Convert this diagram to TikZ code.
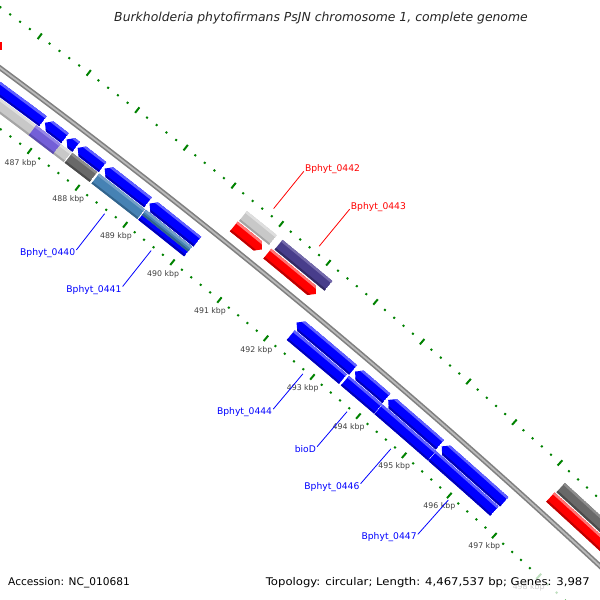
\documentclass[tikz,border=0pt]{standalone}
\usepackage{graphicx}
\usepackage{fontspec}
\setmainfont{DejaVu Sans}

\definecolor{blu}{RGB}{0,0,255}
\definecolor{bluL}{RGB}{95,95,255}
\definecolor{bluD}{RGB}{0,0,185}
\definecolor{rd}{RGB}{255,0,0}
\definecolor{rdL}{RGB}{255,115,115}
\definecolor{rdD}{RGB}{190,0,0}
\definecolor{lgr}{RGB}{200,200,200}
\definecolor{lgrL}{RGB}{222,222,222}
\definecolor{lgrD}{RGB}{165,165,165}
\definecolor{dgr}{RGB}{105,105,105}
\definecolor{dgrL}{RGB}{140,140,140}
\definecolor{dgrD}{RGB}{75,75,75}
\definecolor{slt}{RGB}{72,61,139}
\definecolor{sltL}{RGB}{115,105,170}
\definecolor{sltD}{RGB}{50,42,100}
\definecolor{msl}{RGB}{115,95,215}
\definecolor{mslL}{RGB}{150,135,230}
\definecolor{mslD}{RGB}{90,75,175}
\definecolor{stl}{RGB}{70,130,180}
\definecolor{stlL}{RGB}{115,160,200}
\definecolor{stlD}{RGB}{50,100,140}
\definecolor{tickgreen}{RGB}{0,130,0}

% gene: start kbp, end kbp, inner r, outer r, 0 box / 1 fwd / 2 rev, colour
\def\gene#1#2#3#4#5#6{%
  \ifcase#5
    \def\gp{({kb(#1)}:#4) arc[start angle={kb(#1)},end angle={kb(#2)},radius=#4] -- ({kb(#2)}:#3) arc[start angle={kb(#2)},end angle={kb(#1)},radius=#3] -- cycle}%
  \or
    \def\gp{({kb(#1)}:#4) arc[start angle={kb(#1)},end angle={kb(#2-0.1)},radius=#4] -- ({kb(#2)}:{(#3+#4)/2}) -- ({kb(#2-0.1)}:#3) arc[start angle={kb(#2-0.1)},end angle={kb(#1)},radius=#3] -- cycle}%
  \or
    \def\gp{({kb(#1)}:{(#3+#4)/2}) -- ({kb(#1+0.1)}:#4) arc[start angle={kb(#1+0.1)},end angle={kb(#2)},radius=#4] -- ({kb(#2)}:#3) arc[start angle={kb(#2)},end angle={kb(#1+0.1)},radius=#3] -- cycle}%
  \fi
  \begin{scope}
    \clip \gp;
    \fill[#6] \gp;
    \draw[#6L,line width=5] ({kb(#1)+0.1}:#4) arc[start angle={kb(#1)+0.1},end angle={kb(#2)-0.1},radius=#4];
    \draw[#6D,line width=4] ({kb(#1)+0.1}:#3) arc[start angle={kb(#1)+0.1},end angle={kb(#2)-0.1},radius=#3];
  \end{scope}}

\begin{document}
\begin{tikzpicture}[x=1bp,y=1bp,
    declare function={kb(\s)=50.4-0.497*(\s-492);},
    tickmark/.style={draw=tickgreen,line width=2},
    kbplbl/.style={font=\fontsize{7.8bp}{8bp}\selectfont,text=black!75,inner sep=0},
    inlbl/.style={font=\fontsize{9.2bp}{10bp}\selectfont,text=blu,anchor=base east,inner sep=0,xshift=-1,yshift=-5.5},
    outlbl/.style={font=\fontsize{9.2bp}{10bp}\selectfont,text=rd,anchor=base west,inner sep=0,xshift=1},
    inlead/.style={draw=blu,line width=0.8},
    outlead/.style={draw=rd,line width=0.8},
    legfont/.style={font=\fontsize{10.6bp}{11bp}\selectfont,inner sep=0}]

  \useasboundingbox (0,0) rectangle (600,600);
  \fill[white] (0,0) rectangle (600,600);

  \begin{scope}
    \clip (0,0) rectangle (600,600);
    \begin{scope}[shift={(-4167,-5097)}]

      %%%%% backbone %%%%%
      \draw[black!50,line width=5] ({kb(483)}:7004) arc[start angle={kb(483)},end angle={kb(500)},radius=7004];
      \draw[black!27,line width=1.8] ({kb(483)}:7004) arc[start angle={kb(483)},end angle={kb(500)},radius=7004];

      %%%%% ticks %%%%%
      \foreach \i in {2415,...,2500}{
        \pgfmathtruncatemacro\m{mod(\i,5)}
        \pgfmathsetmacro\a{kb(\i/5)}
        \ifnum\m=0
          \draw[tickmark] (\a:6951.5) -- (\a:6958.5);
          \draw[tickmark] (\a:7049.5) -- (\a:7056.5);
        \else
          \draw[tickmark] (\a:6954) -- (\a:6956);
          \draw[tickmark] (\a:7052) -- (\a:7054);
        \fi}
      \foreach \k in {487,...,498}
        \node[kbplbl] (k\k) at ({kb(\k)}:6940) {\k\ kbp};

      %%%%% reverse strand, row 1 %%%%%
      \gene{485.83}{486.88}{6980.5}{6993}{2}{blu}
      \gene{486.92}{487.34}{6980.5}{6993}{2}{blu}
      \gene{487.37}{487.57}{6980.5}{6993}{2}{blu}
      \gene{487.60}{488.12}{6980.5}{6993}{2}{blu}
      \gene{488.16}{489.07}{6980.5}{6993}{2}{blu}
      \gene{489.10}{490.11}{6980.5}{6993}{2}{blu}
      \gene{492.22}{493.44}{6980.5}{6993}{2}{blu}
      \gene{493.48}{494.16}{6980.5}{6993}{2}{blu}
      \gene{494.20}{495.33}{6980.5}{6993}{2}{blu}
      \gene{495.37}{496.75}{6980.5}{6993}{2}{blu}

      %%%%% reverse strand, row 2 %%%%%
      \gene{484.50}{487.56}{6967}{6979.5}{0}{lgr}
      \gene{486.83}{487.34}{6967}{6979.5}{0}{msl}
      \gene{487.58}{488.10}{6967}{6979.5}{0}{dgr}
      \gene{488.14}{489.10}{6967}{6979.5}{0}{stl}
      \gene{489.12}{490.09}{6967}{6979.5}{0}{blu}
      \gene{489.12}{490.09}{6973}{6979.5}{0}{stl}
      \gene{492.28}{493.41}{6967}{6979.5}{0}{blu}
      \gene{493.45}{494.17}{6967}{6979.5}{0}{blu}
      \gene{494.18}{495.35}{6967}{6979.5}{0}{blu}
      \gene{495.36}{496.73}{6967}{6979.5}{0}{blu}

      %%%%% forward strand %%%%%
      \gene{490.42}{491.02}{7015}{7027.5}{1}{rd}
      \gene{491.13}{492.17}{7015}{7027.5}{1}{rd}
      \gene{497.26}{500.00}{7015}{7027.5}{1}{rd}
      \gene{490.43}{491.06}{7029}{7041.5}{0}{lgr}
      \gene{491.18}{492.24}{7029}{7041.5}{0}{slt}
      \gene{497.28}{500.00}{7029}{7041.5}{0}{dgr}

      %%%%% labels %%%%%
      \coordinate (a440) at ({kb(488.62)}:6951);
      \coordinate (b440) at ({kb(488.62)}:6905);
      \coordinate (a441) at ({kb(489.605)}:6951);
      \coordinate (b441) at ({kb(489.605)}:6905);
      \coordinate (a442) at ({kb(490.745)}:7060);
      \coordinate (b442) at ({kb(490.745)}:7108);
      \coordinate (a443) at ({kb(491.71)}:7060);
      \coordinate (b443) at ({kb(491.71)}:7108);
      \coordinate (a444) at ({kb(492.845)}:6951);
      \coordinate (b444) at ({kb(492.845)}:6905);
      \coordinate (abio) at ({kb(493.81)}:6951);
      \coordinate (bbio) at ({kb(493.81)}:6905);
      \coordinate (a446) at ({kb(494.765)}:6951);
      \coordinate (b446) at ({kb(494.765)}:6905);
      \coordinate (a447) at ({kb(496.04)}:6951);
      \coordinate (b447) at ({kb(496.04)}:6905);

      \draw[inlead] (a440) -- (b440);
      \draw[inlead] (a441) -- (b441);
      \draw[outlead] (a442) -- (b442);
      \draw[outlead] (a443) -- (b443);
      \draw[inlead] (a444) -- (b444);
      \draw[inlead] (abio) -- (bbio);
      \draw[inlead] (a446) -- (b446);
      \draw[inlead] (a447) -- (b447);

      \node[inlbl] (t440) at (b440) {Bphyt\_0440};
      \node[inlbl] (t441) at (b441) {Bphyt\_0441};
      \node[outlbl] (t442) at (b442) {Bphyt\_0442};
      \node[outlbl] (t443) at (b443) {Bphyt\_0443};
      \node[inlbl] (t444) at (b444) {Bphyt\_0444};
      \node[inlbl] (tbio) at (bbio) {bioD};
      \node[inlbl] (t446) at (b446) {Bphyt\_0446};
      \node[inlbl] (t447) at (b447) {Bphyt\_0447};
    \end{scope}
    \fill[rd] (0,550) rectangle (1.8,558);
  \end{scope}

  %%%%% title and legend %%%%%
  \node[font=\fontsize{12.4bp}{13bp}\selectfont\itshape,text=black!85,inner sep=0,anchor=base] (title) at (321,578)
    {Burkholderia phytofirmans PsJN chromosome 1, complete genome};
  \fill[white,opacity=0.75] (255,6) rectangle (595,29);
  \node[legfont,anchor=base west] (acc) at (8,14) {Accession: NC\_010681};
  \node[legfont,anchor=base east] (topo) at (590,14) {\scalebox{1.1}[1]{Topology: circular; Length: 4,467,537 bp; Genes: 3,987}};
\end{tikzpicture}
\end{document}
